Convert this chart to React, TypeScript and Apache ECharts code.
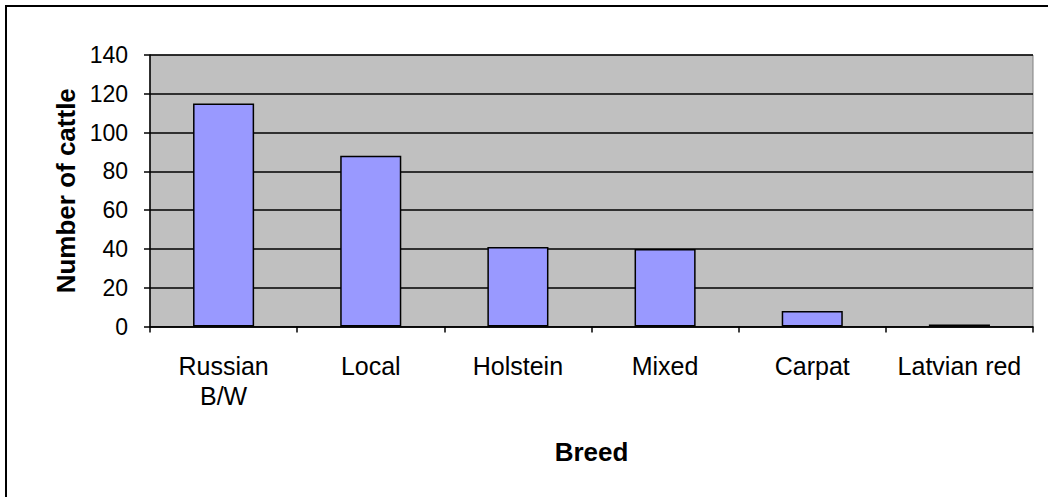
import React, { useEffect, useRef } from "react";
import * as echarts from "echarts";

const categories = ["Russian\nB/W", "Local", "Holstein", "Mixed", "Carpat", "Latvian red"];
const cattleCounts = [115, 88, 41, 40, 8, 1];
const yTicks = { min: 0, max: 140, interval: 20 };

export default function App() {
  const ref = useRef<HTMLDivElement>(null);
  useEffect(() => {
    if (!ref.current) return;
    const chart = echarts.init(ref.current, null, { renderer: "svg" });
    const font = "'Liberation Sans', Arial, sans-serif";
    chart.setOption({
      animation: false,
      backgroundColor: "#ffffff",
      textStyle: { fontFamily: font },
      graphic: [
        {
          type: "rect",
          shape: { x: 6, y: 6, width: 1100, height: 600 },
          style: { fill: "none", stroke: "#000", lineWidth: 2 },
          silent: true,
        },
      ],
      grid: {
        left: 150,
        right: 15,
        top: 55,
        bottom: 170.5,
        show: true,
        backgroundColor: "#C0C0C0",
        borderColor: "#808080",
        borderWidth: 1,
      },
      xAxis: {
        type: "category",
        data: categories,
        name: "Breed",
        nameLocation: "middle",
        nameGap: 112,
        nameTextStyle: { fontSize: 26, fontWeight: "bold", color: "#000", fontFamily: font },
        axisLine: { show: true, lineStyle: { color: "#000", width: 1.5 } },
        axisTick: { show: true, length: 6, lineStyle: { color: "#000", width: 1.5 } },
        axisLabel: {
          fontSize: 25,
          color: "#000",
          margin: 24,
          lineHeight: 30,
          fontFamily: font,
          interval: 0,
        },
        splitLine: { show: false },
      },
      yAxis: {
        type: "value",
        min: yTicks.min,
        max: yTicks.max,
        interval: yTicks.interval,
        name: "Number of cattle",
        nameLocation: "middle",
        nameGap: 66,
        nameRotate: 90,
        nameTextStyle: { fontSize: 26, fontWeight: "bold", color: "#000", fontFamily: font },
        axisLine: { show: true, lineStyle: { color: "#000", width: 1.5 } },
        axisTick: { show: true, length: 6, lineStyle: { color: "#000", width: 1.5 } },
        axisLabel: { fontSize: 23, color: "#000", margin: 22, fontFamily: font },
        splitLine: { show: true, lineStyle: { color: "#000", width: 1.5 } },
      },
      series: [
        {
          type: "bar",
          data: cattleCounts,
          barWidth: "41.5%",
          itemStyle: { color: "#9999FF", borderColor: "#000", borderWidth: 1.5 },
        },
      ],
    });
    return () => chart.dispose();
  }, []);
  return (
    <div
      ref={ref}
      style={{ position: "fixed", left: 0, top: 0, width: 1048, height: 497 }}
    />
  );
}
